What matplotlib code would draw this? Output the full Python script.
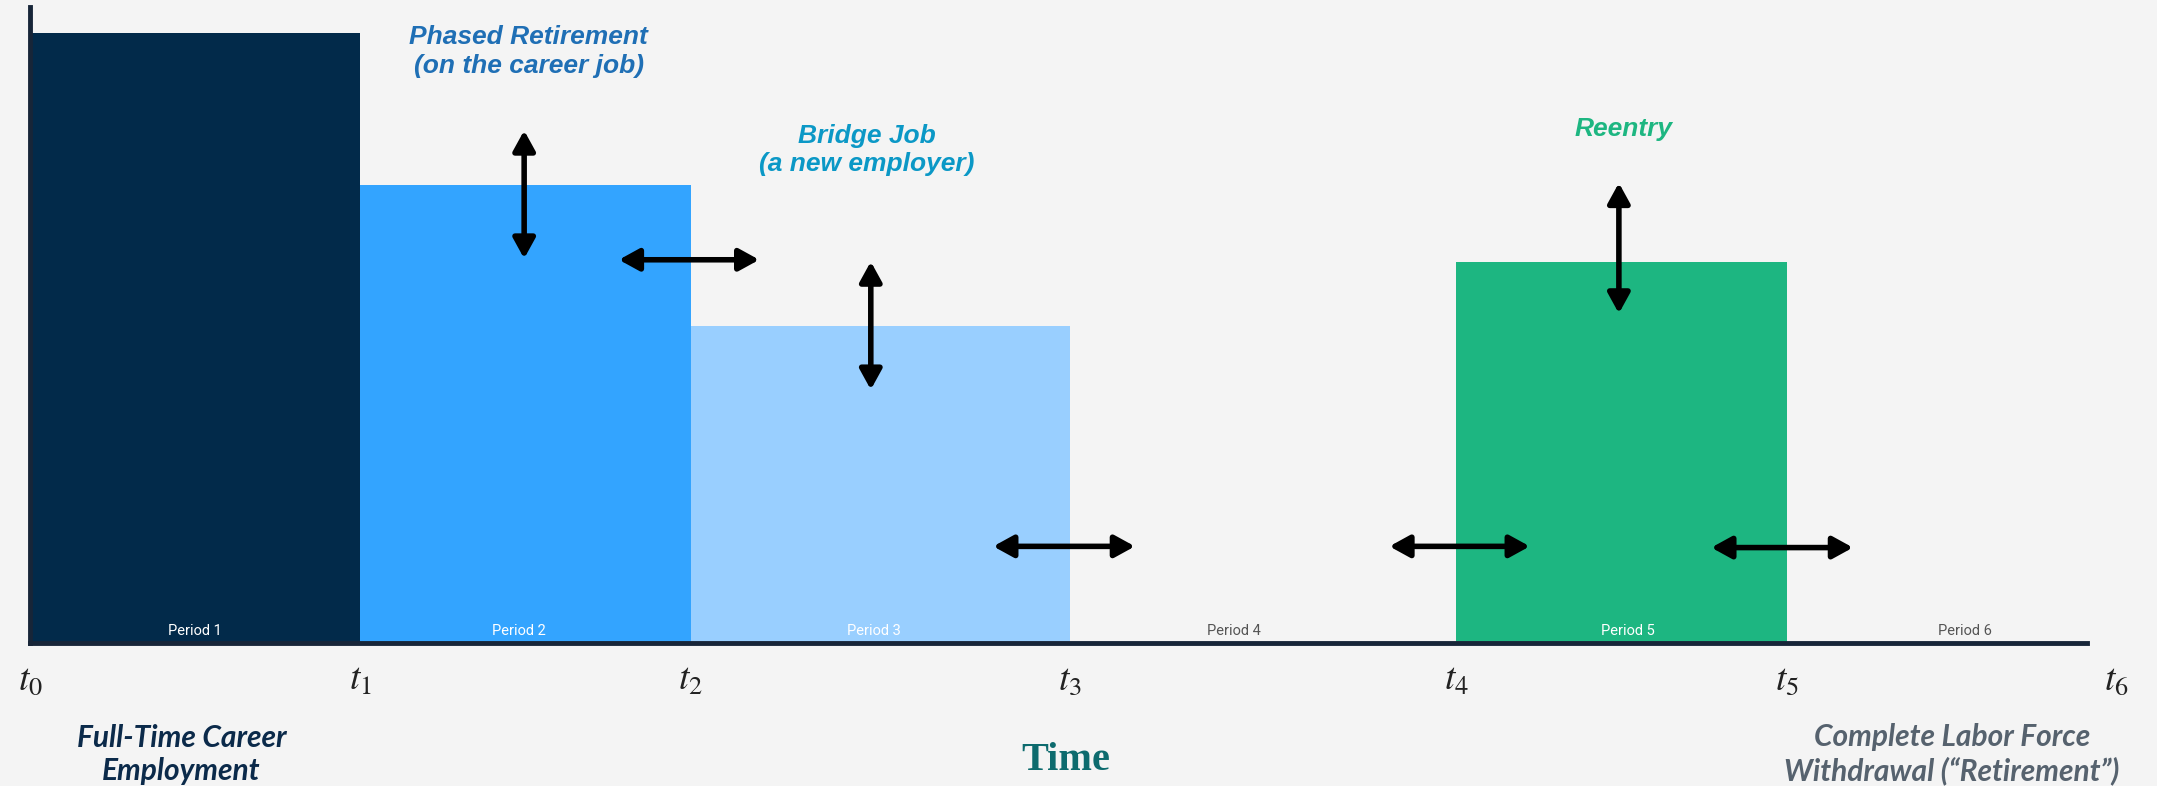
import matplotlib
matplotlib.use("Agg")
import matplotlib.pyplot as plt
from matplotlib.patches import FancyArrowPatch

# Labour-force pathway: one block per period, height = work intensity
period_labels = ["Period 1", "Period 2", "Period 3", "Period 4", "Period 5", "Period 6"]
time_labels = ["$t_0$", "$t_1$", "$t_2$", "$t_3$", "$t_4$", "$t_5$", "$t_6$"]
boundaries = [0, 1.0, 2.0, 3.15, 4.32, 5.32, 6.32]
levels = [100, 75, 52, 0, 62.5, 0]

bar_colors = ["#022a4a", "#33a4ff", "#99cfff", "#f4f4f4", "#1db681", "#f4f4f4"]
period_text_colors = ["white", "white", "white", "#555555", "white", "#555555"]
# nudge of each period label away from the middle of its block
period_label_shift = [0, -0.02, -0.02, -0.09, 0.02, 0.04]

# double arrows: (x0, y0, x1, y1)
arrows = [
    (1.496, 84.0, 1.496, 63.0),
    (1.783, 62.8, 2.208, 62.8),
    (2.546, 62.5, 2.546, 41.5),
    (2.917, 15.8, 3.346, 15.8),
    (4.117, 15.8, 4.542, 15.8),
    (4.812, 75.4, 4.812, 54.0),
    (5.092, 15.6, 5.521, 15.6),
]

bg = "#f4f4f4"
plt.rcParams["mathtext.fontset"] = "stix"
fig = plt.figure(figsize=(21.57, 7.86), dpi=100, facecolor=bg)
ax = fig.add_axes([0, 0, 1, 1], facecolor=bg)

widths = [b - a for a, b in zip(boundaries[:-1], boundaries[1:])]
ax.bar(boundaries[:-1], levels, width=widths, align="edge",
       color=bar_colors, linewidth=0, zorder=1)

for left, w, lab, tc, dx in zip(boundaries[:-1], widths, period_labels,
                                period_text_colors, period_label_shift):
    ax.text(left + w / 2 + dx, 0.7, lab, ha="center", va="bottom",
            fontsize=10.5, family="Roboto", color=tc, zorder=3)

for x0, y0, x1, y1 in arrows:
    ax.add_patch(FancyArrowPatch((x0, y0), (x1, y1),
                                 arrowstyle="<|-|>,head_length=0.6,head_width=0.33",
                                 mutation_scale=20, lw=4, color="black",
                                 shrinkA=0, shrinkB=0, zorder=4))

# axes: only left and bottom lines, crossing at the origin
ax.set_xlim(-0.0917, 6.442)
ax.set_ylim(-23.5, 105.4)
for side in ["top", "right"]:
    ax.spines[side].set_visible(False)
for side in ["left", "bottom"]:
    ax.spines[side].set_position(("data", 0))
    ax.spines[side].set_color("#172538")
    ax.spines[side].set_linewidth(3.5)
    ax.spines[side].set_zorder(5)
ax.spines["left"].set_bounds(0, 104.3)
ax.spines["bottom"].set_bounds(0, 6.23)
ax.set_yticks([])
ax.set_xticks(boundaries, time_labels)
ax.tick_params(axis="x", length=0, pad=14, labelsize=27, labelcolor="#222222")

head = dict(ha="center", va="center", fontsize=19, family="Liberation Sans",
            weight="bold", style="italic", linespacing=1.25)
ax.text(1.51, 97.0, "Phased Retirement\n(on the career job)", color="#1f6fb5", **head)
ax.text(2.533, 80.8, "Bridge Job\n(a new employer)", color="#0b98c6", **head)
ax.text(4.825, 84.2, "Reentry", color="#1db681", **head)

foot = dict(ha="center", va="center", fontsize=21.5, family="Lato",
            weight="bold", style="italic", linespacing=1.2)
ax.text(0.458, -18.3, "Full-Time Career\nEmployment", color="#0b2a4a", **foot)
ax.text(5.82, -18.3, "Complete Labor Force\nWithdrawal (\u201cRetirement\u201d)",
        color="#56626e", **foot)
ax.text(3.1375, -19.4, "Time", ha="center", va="center", fontsize=29,
        family="Liberation Serif", weight="bold", color="#0d6b6e")

fig.savefig("out.png", dpi=100, facecolor=bg)
